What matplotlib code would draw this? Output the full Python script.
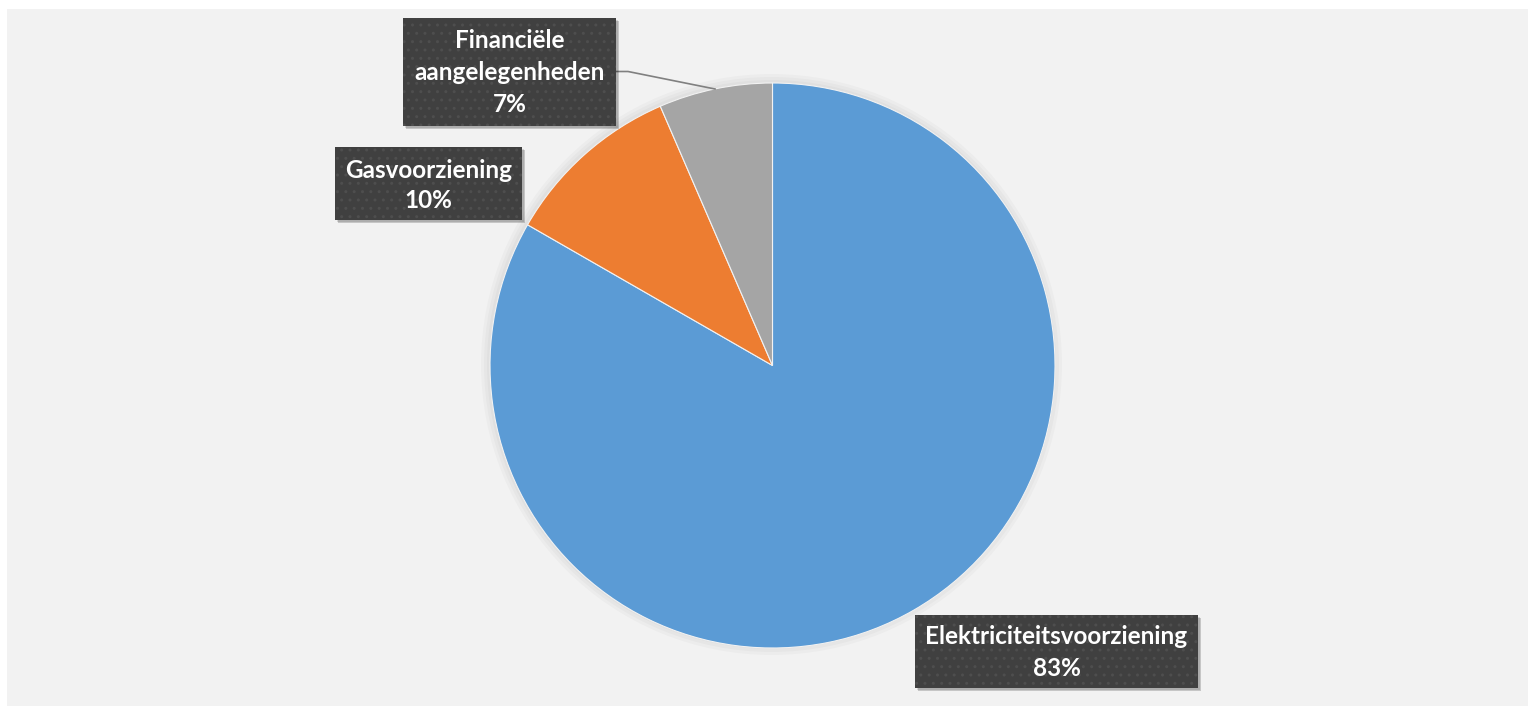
import matplotlib
matplotlib.use("Agg")
import matplotlib.pyplot as plt
from matplotlib.patches import Rectangle

categories = ["Elektriciteitsvoorziening", "Gasvoorziening", "Financiële\naangelegenheden"]
values = [83.3, 10.2, 6.5]
pct_labels = ["83%", "10%", "7%"]
colors = ["#5B9BD5", "#ED7D31", "#A5A5A5"]

W, H = 1536, 714
fig = plt.figure(figsize=(W / 100, H / 100), dpi=100)
fig.patch.set_facecolor("white")
ax = fig.add_axes([0, 0, 1, 1])
ax.set_xlim(0, W)
ax.set_ylim(0, H)
ax.set_aspect("equal")
ax.axis("off")

def Y(y):
    return H - y

# panel background
ax.add_patch(Rectangle((7, Y(706)), 1521, 697, facecolor="#F2F2F2", edgecolor="none", zorder=0))

cx, cy, r = 772.5, 365.5, 282.5
# soft shadow
for i, a in enumerate([0.025, 0.025, 0.025]):
    ax.pie([1], radius=r + 2 + 3 * i, center=(cx - 1, Y(cy) + 1), colors=["#000000"],
           wedgeprops=dict(alpha=a, linewidth=0))
ax.pie(values, radius=r, center=(cx, Y(cy)), colors=colors, startangle=90, counterclock=False,
       wedgeprops=dict(edgecolor="#F2F2F2", linewidth=0.8))
ax.set_xlim(0, W)
ax.set_ylim(0, H)

font = dict(family=["Lato", "DejaVu Sans"], weight="bold", color="white", fontsize=17.5)

boxes = [
    (915, 615, 283, 73, [637, 668]),
    (335, 147, 187, 73, [170, 201]),
    (403, 18, 213, 108, [41, 73, 105]),
]
for (x0, y0, w, h, lines), cat, pct in zip(boxes, categories, pct_labels):
    # shadow
    ax.add_patch(Rectangle((x0 + 3, Y(y0 + h + 3)), w, h, facecolor="#000000", alpha=0.18,
                           edgecolor="none", zorder=4))
    ax.add_patch(Rectangle((x0 + 2, Y(y0 + h + 2)), w, h, facecolor="#000000", alpha=0.12,
                           edgecolor="none", zorder=4))
    ax.add_patch(Rectangle((x0, Y(y0 + h)), w, h, facecolor="#404040", edgecolor="none", zorder=5))
    ax.add_patch(Rectangle((x0, Y(y0 + h)), w, h, facecolor="none", edgecolor="#4E4E4E",
                           hatch="..", linewidth=0, zorder=5))
    texts = cat.split("\n") + [pct]
    for t, ly in zip(texts, lines):
        ax.text(x0 + w / 2, Y(ly), t, ha="center", va="center", zorder=6, **font)

# leader line for the small slice
ax.plot([616, 628, 715], [Y(71.5), Y(71.5), Y(89)], color="#808080", linewidth=1.2, zorder=3)

fig.savefig("out.png", dpi=100, facecolor=fig.get_facecolor())
